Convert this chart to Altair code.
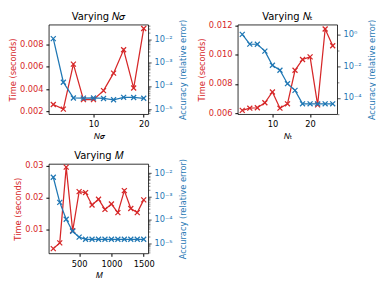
import altair as alt
import pandas as pd

RED = "#d62728"
BLUE = "#1f77b4"
FONT = "DejaVu Sans"

# ---- data ----
nsig = [2, 4, 6, 8, 10, 12, 14, 16, 18, 20]
nsig_time = [0.00262, 0.00220, 0.00625, 0.00306, 0.00306, 0.00387, 0.00544, 0.00754, 0.00410, 0.00945]
nsig_acc = [1.1e-2, 1.45e-4, 3.05e-5, 3.0e-5, 3.05e-5, 2.9e-5, 2.55e-5, 3.25e-5, 3.2e-5, 2.95e-5]

nt = [2, 4, 6, 8, 10, 12, 14, 16, 18, 20, 22, 24, 26]
nt_time = [0.00619, 0.00634, 0.00637, 0.00671, 0.00745, 0.00634, 0.00664, 0.00894, 0.00968, 0.00986, 0.00657, 0.01177, 0.01062]
nt_acc = [1.0, 0.245, 0.24, 0.088, 0.0114, 0.0055, 7.8e-4, 2.95e-4, 4.2e-5, 4.2e-5, 4.2e-5, 4.2e-5, 4.2e-5]

m = [100, 200, 300, 400, 500, 600, 700, 800, 900, 1000, 1100, 1200, 1300, 1400, 1500]
m_time = [0.0039, 0.0057, 0.0295, 0.0095, 0.0218, 0.0215, 0.0176, 0.0194, 0.0162, 0.0179, 0.0152, 0.0221, 0.0165, 0.0152, 0.0192]
m_acc = [6.7e-3, 5.6e-4, 1.05e-4, 3.2e-5, 1.8e-5, 1.45e-5, 1.45e-5, 1.45e-5, 1.45e-5, 1.45e-5, 1.45e-5, 1.45e-5, 1.45e-5, 1.45e-5, 1.45e-5]

SUP = {"-": "\u207b", "0": "\u2070", "1": "\u00b9", "2": "\u00b2", "3": "\u00b3",
       "4": "\u2074", "5": "\u2075", "6": "\u2076", "7": "\u2077", "8": "\u2078", "9": "\u2079"}

XSHAPE = "M-1,-1L1,1M1,-1L-1,1"
W, H = 100, 90

N_IT = "\U0001D441"      # mathematical italic N
SIG_IT = "\U0001D70E"    # mathematical italic sigma
M_IT = "\U0001D440"      # mathematical italic M


def sup(e):
    return "10" + "".join(SUP[c] for c in str(e))


def log_axis(major_exps, minor_vals):
    vals = [10.0 ** e for e in major_exps] + minor_vals
    lg = "(log(datum.value)/LN10)"
    expr = "''"
    test_parts = []
    for e in major_exps:
        cond = f"abs({lg} - ({e})) < 0.01"
        expr = f"{cond} ? '{sup(e)}' : ({expr})"
        test_parts.append(cond)
    test = " || ".join(test_parts)
    return alt.Axis(
        orient="right", values=vals, labelExpr=expr, title="Accuracy (relative error)",
        titleColor=BLUE, labelColor=BLUE, titleAngle=270, titleBaseline="top", labelOverlap=False,
        titlePadding=6.0,
        tickSize={"condition": {"test": test, "value": 2.9}, "value": 1.7},
        tickWidth={"condition": {"test": test, "value": 0.7}, "value": 0.5},
    )


def panel(x, t, a, xtitle, title, xvals, xdom, tdom, tvals, tfmt, adom, majors, minors):
    df = pd.DataFrame({"x": x, "t": t, "a": a})
    base = alt.Chart(df)
    xenc = alt.X("x:Q", scale=alt.Scale(domain=xdom, nice=False, zero=False),
                 axis=alt.Axis(values=xvals, format="d", title=xtitle))
    yt = alt.Y("t:Q", scale=alt.Scale(domain=tdom, nice=False, zero=False),
               axis=alt.Axis(values=tvals, format=tfmt, title="Time (seconds)",
                             titleColor=RED, labelColor=RED, titlePadding=2.0))
    ya = alt.Y("a:Q", scale=alt.Scale(type="log", domain=adom, nice=False),
               axis=log_axis(majors, minors))
    red = alt.layer(
        base.mark_line(color=RED, strokeWidth=1.25).encode(x=xenc, y=yt),
        base.mark_point(shape=XSHAPE, color=RED, size=25, strokeWidth=1.25, filled=False, opacity=1).encode(x=xenc, y=yt),
    )
    blue = alt.layer(
        base.mark_line(color=BLUE, strokeWidth=1.25).encode(x=xenc, y=ya),
        base.mark_point(shape=XSHAPE, color=BLUE, size=25, strokeWidth=1.25, filled=False, opacity=1).encode(x=xenc, y=ya),
    )
    return alt.layer(red, blue).resolve_scale(y="independent").properties(
        width=W, height=H, title=alt.TitleParams(title, fontSize=10, fontWeight="normal", offset=-3))


def minor_between(lo, hi):
    out = []
    for e in range(lo, hi):
        for k in range(2, 10):
            out.append(k * 10.0 ** e)
    return out


p1 = panel(nsig, nsig_time, nsig_acc, N_IT + SIG_IT, "Varying " + N_IT + SIG_IT, [10, 20], [1.1, 20.9],
           [0.00175, 0.0098], [0.002, 0.004, 0.006, 0.008], ".3f",
           [10 ** -5.214, 10 ** -1.357], [-5, -4, -3, -2], minor_between(-6, -1))
p2 = panel(nt, nt_time, nt_acc, N_IT + "\u209c", "Varying " + N_IT + "\u209c", [10, 20], [0.8, 27.2],
           [0.00593, 0.01207], [0.006, 0.008, 0.010, 0.012], ".3f",
           [10 ** -5.03, 10 ** 0.616], [-4, -2, 0], [1e-5, 1e-3, 1e-1])
p3 = panel(m, m_time, m_acc, M_IT, "Varying " + M_IT, [500, 1000, 1500], [30, 1570],
           [0.0024, 0.0305], [0.01, 0.02, 0.03], ".2f",
           [10 ** -5.445, 10 ** -1.6], [-5, -4, -3, -2], minor_between(-6, -1))

chart = alt.concat(p1, p2, p3, columns=2, spacing={"row": 50, "column": 90}, bounds="flush").properties(
    padding={"left": 0, "top": 3, "right": 0, "bottom": 0}
).configure(font=FONT).configure_view(
    stroke="black", strokeWidth=0.8
).configure_axis(
    grid=False, domain=False, tickColor="black", tickSize=2.9, labelPadding=2.9, titlePadding=3.3,
    labelFontSize=8.3, titleFontSize=8.3, titleFontWeight="normal", labelFont=FONT, titleFont=FONT,
    labelColor="black", titleColor="black"
).configure_title(font=FONT, fontSize=10, fontWeight="normal", color="black")

chart.save("out.html", embed_options={"renderer": "svg", "actions": False})
